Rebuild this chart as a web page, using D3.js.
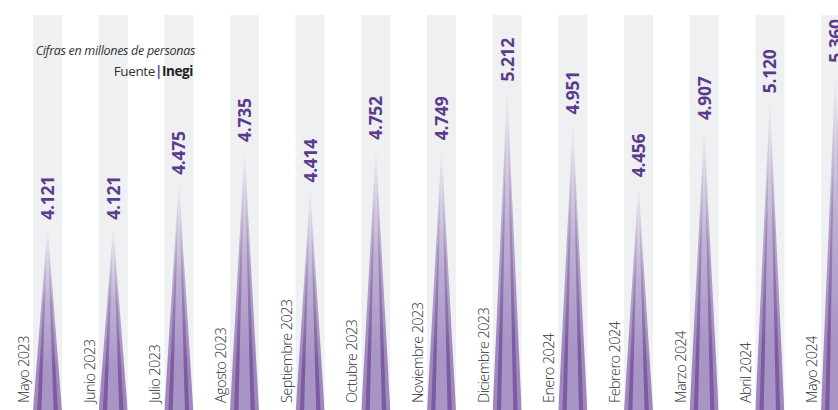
<!DOCTYPE html>
<html>
<head>
<meta charset="utf-8">
<script src="https://cdn.jsdelivr.net/npm/d3@7"></script>
<style>
  html, body { margin: 0; padding: 0; background: #fff; }
  svg { display: block; }
</style>
</head>
<body>
<div id="chart"></div>
<script>
const months = ['Mayo 2023', 'Junio 2023', 'Julio 2023', 'Agosto 2023', 'Septiembre 2023',
                'Octubre 2023', 'Noviembre 2023', 'Diciembre 2023', 'Enero 2024',
                'Febrero 2024', 'Marzo 2024', 'Abril 2024', 'Mayo 2024']
const values = [4.121, 4.121, 4.475, 4.735, 4.414, 4.752, 4.749, 5.212, 4.951,
                4.456, 4.907, 5.120, 5.360]
const note = 'Cifras en millones de personas'
const source = ['Fuente', 'Inegi']

const width = 838,
      height = 410,
      bandTop = 15,
      base = 412

const xScale = d3.scaleBand()
                 .domain(months)
                 .range([33, 850])
                 .paddingInner(0.558)
                 .paddingOuter(0),

      yScale = d3.scaleLinear()
                 .domain([4, 5.5])
                 .range([240, 50])

const fmt = d3.format('.3f')

const svg = d3.select('#chart')
              .append('svg')
              .attr('width', width)
              .attr('height', height)

const defs = svg.append('defs')

const fadeGrad = defs.append('linearGradient')
                     .attr('id', 'fadeGrad')
                     .attr('x1', 0).attr('y1', 0)
                     .attr('x2', 0).attr('y2', 1)
fadeGrad.selectAll('stop')
        .data([[0, '#000'], [0.08, '#1c1c1c'], [0.42, '#b0b0b0'], [0.78, '#fff'], [1, '#fff']])
        .enter()
        .append('stop')
        .attr('offset', function(d) { return d[0] })
        .attr('stop-color', function(d) { return d[1] })

defs.append('mask')
    .attr('id', 'fade')
    .attr('maskContentUnits', 'objectBoundingBox')
    .append('rect')
    .attr('width', 1)
    .attr('height', 1)
    .attr('fill', 'url(#fadeGrad)')

// gray columns
svg.selectAll('rect.band')
   .data(months)
   .enter()
   .append('rect')
   .attr('class', 'band')
   .attr('x', function(d) { return xScale(d) })
   .attr('y', bandTop)
   .attr('width', xScale.bandwidth())
   .attr('height', height - bandTop)
   .attr('fill', '#eff0f2')

// spikes: three stacked triangles sharing the tip
const layers = [[1, '#a088bd'], [0.72, '#7c5ca0'], [0.42, '#a994c6']]

const spike = svg.selectAll('g.spike')
                 .data(values)
                 .enter()
                 .append('g')
                 .attr('class', 'spike')
                 .attr('mask', 'url(#fade)')

spike.each(function(v, i) {
  const cx = xScale(months[i]) + xScale.bandwidth() / 2,
        tip = yScale(v),
        w = xScale.bandwidth()
  d3.select(this)
    .selectAll('path')
    .data(layers)
    .enter()
    .append('path')
    .attr('d', function(l) {
      const hw = w * l[0] / 2
      return 'M' + cx + ',' + tip + 'L' + (cx + hw) + ',' + base + 'L' + (cx - hw) + ',' + base + 'Z'
    })
    .attr('fill', function(l) { return l[1] })
})

// value labels
svg.selectAll('text.value')
   .data(values)
   .enter()
   .append('text')
   .attr('class', 'value')
   .attr('transform', function(d, i) {
     const cx = xScale(months[i]) + xScale.bandwidth() / 2
     return 'translate(' + (cx + 6.5) + ',' + (yScale(d) - 5) + ') rotate(-90)'
   })
   .attr('font-family', 'Open Sans, sans-serif')
   .attr('font-weight', 700)
   .attr('font-size', 17.5)
   .attr('letter-spacing', -0.3)
   .attr('fill', '#5b3b8c')
   .text(function(d) { return fmt(d) })

// month labels
svg.selectAll('text.month')
   .data(months)
   .enter()
   .append('text')
   .attr('class', 'month')
   .attr('transform', function(d) {
     return 'translate(' + (xScale(d) - 4) + ',403) rotate(-90)'
   })
   .attr('font-family', 'Open Sans, sans-serif')
   .attr('font-weight', 300)
   .attr('font-size', 14.5)
   .attr('letter-spacing', -0.6)
   .attr('fill', '#2e2e2e')
   .text(function(d) { return d })

// note and source
svg.append('text')
   .attr('x', 195)
   .attr('y', 55)
   .attr('text-anchor', 'end')
   .attr('font-family', 'Open Sans, sans-serif')
   .attr('font-style', 'italic')
   .attr('font-size', 12.5)
   .attr('letter-spacing', -0.3)
   .attr('fill', '#333')
   .text(note)

const src = svg.append('text')
               .attr('x', 193)
               .attr('y', 76)
               .attr('text-anchor', 'end')
               .attr('font-family', 'Open Sans, sans-serif')
               .attr('font-size', 13.5)
               .attr('letter-spacing', -0.4)
               .attr('fill', '#333')
src.append('tspan').text(source[0])
src.append('tspan').attr('fill', '#6a3fa0').attr('font-weight', 700).text('|')
src.append('tspan').attr('font-weight', 700).attr('fill', '#222').text(source[1])
</script>
</body>
</html>
